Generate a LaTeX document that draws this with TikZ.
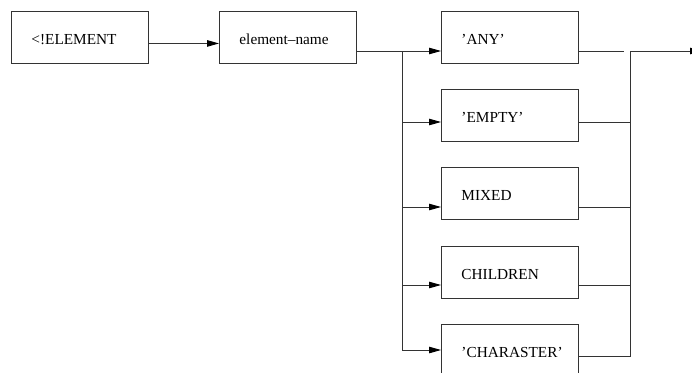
\documentclass[tikz,border=0pt]{standalone}
\usepackage{fontspec}
\setmainfont{Liberation Serif}
\usetikzlibrary{arrows.meta}
\begin{document}
\begin{tikzpicture}[x=1pt,y=-1pt,
  wire/.style={line width=0.9pt,draw=black!80},
  flow/.style={wire,-{Triangle[length=12pt,width=6.5pt,fill=black,color=black]}},
  term/.style={draw=black!80,line width=0.9pt,anchor=north west,
    minimum width=137pt,minimum height=52pt,text width=97pt,inner xsep=20pt,
    align=left,text height=14pt,text depth=0pt,
    font=\fontsize{15.3}{18}\selectfont}]
\useasboundingbox (0,0) rectangle (692,372);
\clip (0,0) rectangle (692,372);

% terms
\node[term] (elem)  at (11,11)  {<!ELEMENT};
\node[term] (name)  at (219,11) {element--name};
\node[term] (any)   at (441,11) {'ANY'};
\node[term] (empty) at (441,89) {'EMPTY'};
\node[term] (mixed) at (441,167) {MIXED};
\node[term] (child) at (441,246) {CHILDREN};
\node[term] (chars) at (441,324) {'CHARASTER'};

% branch and merge points
\coordinate (sp)  at (402,51);
\coordinate (spb) at (402,350);
\coordinate (jn)  at (630,51);
\coordinate (jb)  at (630,356.5);
\coordinate (anyend) at (624,51);
\coordinate (out) at (702,51);

% keyword to name
\draw[flow] ([yshift=-6pt]elem.east) -- ([yshift=-6pt]name.west);

% split into the alternatives
\draw[wire] (name.east |- sp) -- (sp) -- (spb);
\draw[flow] (sp) -- (any.west |- sp);
\draw[flow] (sp |- 0,122) -- (empty.west |- 0,122);
\draw[flow] (sp |- 0,207) -- (mixed.west |- 0,207);
\draw[flow] (sp |- 0,285) -- (child.west |- 0,285);
\draw[flow] (spb) -- (chars.west |- spb);

% merge of the alternatives
\draw[wire] (any.east |- anyend) -- (anyend);
\draw[wire] (jb) -- (jn);
\draw[wire] (empty.east |- 0,122) -- (jn |- 0,122);
\draw[wire] (mixed.east |- 0,207) -- (jn |- 0,207);
\draw[wire] (child.east |- 0,285) -- (jn |- 0,285);
\draw[wire] (chars.east |- jb) -- (jb);
\draw[flow] (jn) -- (out);
\end{tikzpicture}
\end{document}
